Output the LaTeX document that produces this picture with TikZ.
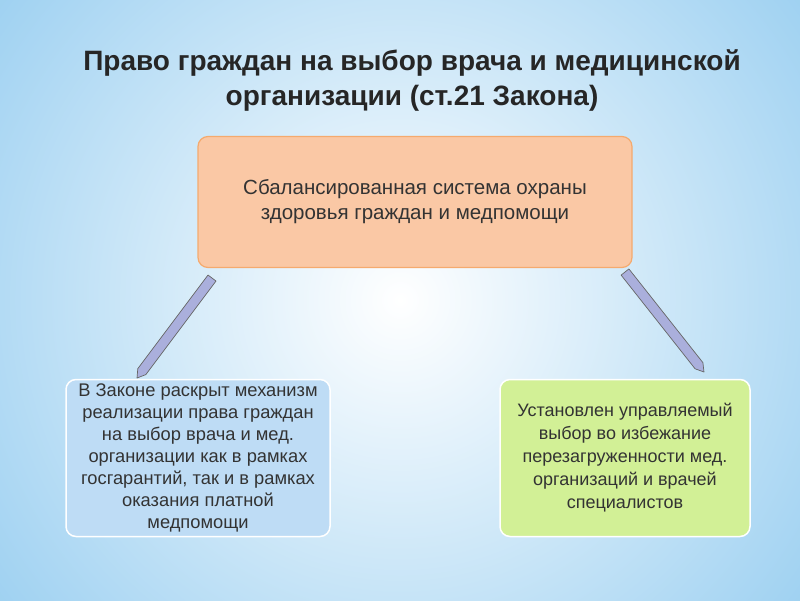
\documentclass[tikz,border=0pt]{standalone}
\usepackage{fontspec}
\setmainfont{Liberation Sans}
\definecolor{bgout}{RGB}{150,205,240}
\definecolor{peach}{RGB}{250,200,165}
\definecolor{peachb}{RGB}{245,170,110}
\definecolor{lblue}{RGB}{190,220,245}
\definecolor{lgreen}{RGB}{210,240,150}
\definecolor{penf}{RGB}{170,175,220}
\begin{document}
\begin{tikzpicture}[x=1pt,y=-1pt,
  box/.style={rounded corners=10pt,align=center,text=black!80},
  pen/.style={draw=black!60,fill=penf,line width=0.7pt,line join=round}]
\useasboundingbox (0,0) rectangle (800,600);
\clip (0,0) rectangle (800,600);
\shade[inner color=white,outer color=bgout,shading=radial] (-150,-250) rectangle (950,850);
\node[font=\bfseries\fontsize{28}{35}\selectfont,align=center,text=black!85] (title) at (412,80)
  {Право граждан на выбор врача и медицинской\\организации (ст.21 Закона)};
\node[box,draw=peachb,line width=1.2pt,fill=peach,minimum width=434pt,minimum height=131pt,font=\fontsize{20.5}{25}\selectfont] (top) at (415,202)
  {Сбалансированная система охраны\\здоровья граждан и медпомощи};
\node[box,draw=white,line width=1.5pt,fill=lblue,minimum width=264pt,minimum height=157pt,font=\fontsize{18.3}{22}\selectfont] (left) at (198,458)
  {В Законе раскрыт механизм\\реализации права граждан\\на выбор врача и мед.\\организации как в рамках\\госгарантий, так и в рамках\\оказания платной\\медпомощи};
\node[box,draw=white,line width=1.5pt,fill=lgreen,minimum width=250pt,minimum height=157pt,font=\fontsize{18}{23}\selectfont] (right) at (625,458)
  {Установлен управляемый\\выбор во избежание\\перезагруженности мед.\\организаций и врачей\\специалистов};
\draw[pen] (216,281) -- (208,275) -- (137.8,368.6) -- (137,378) -- (145.8,374.6) -- cycle;
\draw[pen] (628.9,268.9) -- (621.1,275.1) -- (695.1,368.8) -- (704,372) -- (702.9,362.6) -- cycle;
\end{tikzpicture}
\end{document}
